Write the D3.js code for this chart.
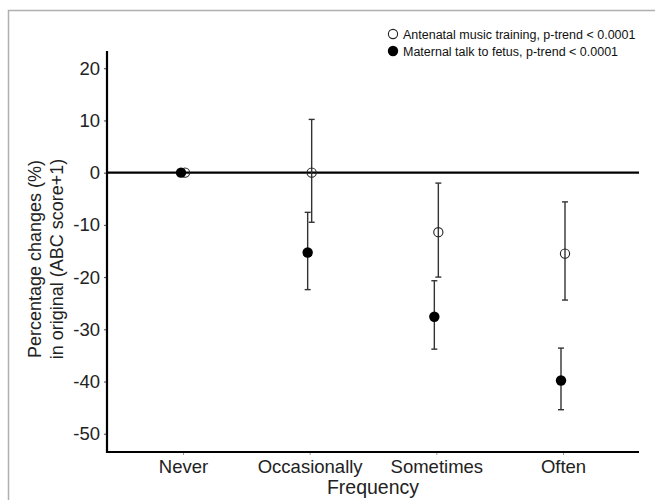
<!DOCTYPE html>
<html>

<head>
  <meta charset="utf-8">
  <title>Frequency chart</title>
  <script src="https://d3js.org/d3.v7.min.js"></script>
  <style>
    body { margin: 0; background: #fff; }
    text { font-family: "Liberation Sans", Arial, sans-serif; }
  </style>
</head>

<body>
  <div id='view'></div>
  <script>
    var categories = ["Never", "Occasionally", "Sometimes", "Often"];

    var musicEst = [0, 0, -11.4, -15.5];
    var musicLow = [0, -9.5, -20.0, -24.4];
    var musicHigh = [0, 10.2, -2.0, -5.6];

    var talkEst = [0, -15.3, -27.6, -39.8];
    var talkLow = [0, -22.4, -33.8, -45.4];
    var talkHigh = [0, -7.6, -20.7, -33.6];

    var yTicks = [-50, -40, -30, -20, -10, 0, 10, 20];
    var legendLabels = ["Antenatal music training, p-trend < 0.0001",
                        "Maternal talk to fetus, p-trend < 0.0001"];

    var width = 655;
    var height = 500;
    var plotLeft = 107, plotRight = 639, plotTop = 51, plotBottom = 452;

    var svg = d3.select("#view")
      .append("svg")
      .attr("width", width)
      .attr("height", height);

    // grey frame of the original figure
    svg.append("path")
      .attr("d", "M8.5,505V10.5H660")
      .attr("fill", "none")
      .attr("stroke", "#b0b0b0")
      .attr("stroke-width", 1.5);

    var x = d3.scalePoint()
      .domain(categories)
      .range([plotLeft, plotRight])
      .padding(0.6);

    var y = d3.scaleLinear()
      .domain([-53.5, 23.3])
      .range([plotBottom, plotTop]);

    var yAxis = svg.append("g")
      .attr("transform", "translate(" + plotLeft + ",0)")
      .call(d3.axisLeft(y).tickValues(yTicks).tickSize(3).tickPadding(4)
        .tickFormat(function (d) { return String(d); }));
    yAxis.select(".domain").remove();
    yAxis.selectAll(".tick line").attr("stroke", "#444");
    yAxis.selectAll(".tick text")
      .attr("font-size", 18.5)
      .attr("fill", "#222")
      .attr("font-family", "Liberation Sans, Arial, sans-serif");

    var xAxis = svg.append("g")
      .attr("transform", "translate(0," + plotBottom + ")")
      .call(d3.axisBottom(x).tickSize(3).tickPadding(5));
    xAxis.select(".domain").remove();
    xAxis.selectAll(".tick line").attr("stroke", "#999");
    xAxis.selectAll(".tick text")
      .attr("font-size", 18.5)
      .attr("fill", "#222")
      .attr("font-family", "Liberation Sans, Arial, sans-serif");

    // axis lines
    svg.append("line")
      .attr("x1", plotLeft).attr("x2", plotLeft)
      .attr("y1", plotTop).attr("y2", plotBottom + 1)
      .attr("stroke", "#000").attr("stroke-width", 2.2);
    svg.append("line")
      .attr("x1", plotLeft - 1).attr("x2", plotRight)
      .attr("y1", plotBottom).attr("y2", plotBottom)
      .attr("stroke", "#000").attr("stroke-width", 2.2);

    // reference line at zero
    svg.append("line")
      .attr("x1", plotLeft).attr("x2", plotRight)
      .attr("y1", y(0)).attr("y2", y(0))
      .attr("stroke", "#000").attr("stroke-width", 2.2);

    var series = [
      { est: musicEst, low: musicLow, high: musicHigh, dx: 2, filled: false },
      { est: talkEst, low: talkLow, high: talkHigh, dx: -2, filled: true }
    ];

    series.forEach(function (s) {
      var g = svg.append("g");
      categories.forEach(function (c, i) {
        var cx = x(c) + s.dx;
        if (s.low[i] !== s.high[i]) {
          g.append("line")
            .attr("x1", cx).attr("x2", cx)
            .attr("y1", y(s.low[i])).attr("y2", y(s.high[i]))
            .attr("stroke", "#333").attr("stroke-width", 1.4);
          [s.low[i], s.high[i]].forEach(function (v) {
            g.append("line")
              .attr("x1", cx - 3).attr("x2", cx + 3)
              .attr("y1", y(v)).attr("y2", y(v))
              .attr("stroke", "#333").attr("stroke-width", 1.4);
          });
        }
        g.append("circle")
          .attr("cx", cx)
          .attr("cy", y(s.est[i]))
          .attr("r", s.filled ? 5.2 : 4.6)
          .attr("fill", s.filled ? "#000" : "none")
          .attr("stroke", s.filled ? "none" : "#222")
          .attr("stroke-width", 1.1);
      });
    });

    // legend
    var legend = svg.append("g");
    legendLabels.forEach(function (t, i) {
      var ly = 34 + i * 17;
      legend.append("circle")
        .attr("cx", 393).attr("cy", ly)
        .attr("r", i == 0 ? 4.6 : 5.2)
        .attr("fill", i == 0 ? "#fff" : "#000")
        .attr("stroke", i == 0 ? "#222" : "none")
        .attr("stroke-width", 1.1);
      legend.append("text")
        .attr("x", 403).attr("y", ly + 4.5)
        .attr("font-size", 12.5)
        .attr("fill", "#111")
        .text(t);
    });

    // axis titles
    var mid = 259;
    var yTitle = svg.append("text")
      .attr("transform", "translate(41," + mid + ") rotate(-90)")
      .attr("text-anchor", "middle")
      .attr("font-size", 18)
      .attr("fill", "#222");
    yTitle.append("tspan").attr("x", 0).attr("dy", 0).text("Percentage changes (%)");
    yTitle.append("tspan").attr("x", 0).attr("dy", 21.5).text("in original (ABC score+1)");

    svg.append("text")
      .attr("x", (plotLeft + plotRight) / 2)
      .attr("y", 494)
      .attr("text-anchor", "middle")
      .attr("font-size", 19.5)
      .attr("fill", "#222")
      .text("Frequency");
  </script>
</body>

</html>
